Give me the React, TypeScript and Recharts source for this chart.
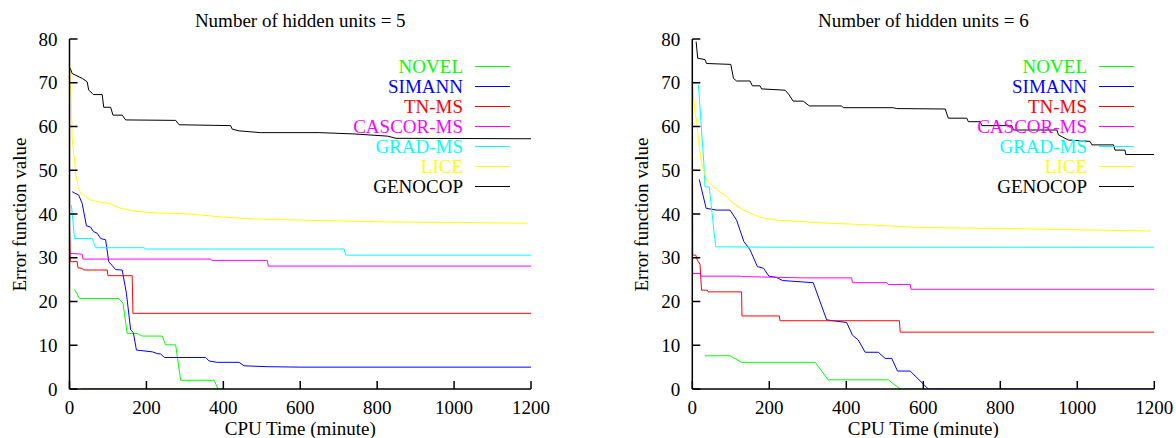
import { LineChart, Line, XAxis, YAxis } from "recharts";

type Pt = { t: number; v: number };
const pts = (a: number[][]): Pt[] => a.map(([t, v]) => ({ t, v }));

const xTicks = [0, 200, 400, 600, 800, 1000, 1200];
const yTicks = [0, 10, 20, 30, 40, 50, 60, 70, 80];

const methods = ["NOVEL", "SIMANN", "TN-MS", "CASCOR-MS", "GRAD-MS", "LICE", "GENOCOP"];
const colors = ["#00ff00", "#0000ff", "#ff0000", "#ff00ff", "#00ffff", "#ffff00", "#000000"];

// hidden units = 5
const h5Novel = pts([[13, 22.8], [26, 20.7], [128, 20.7], [139, 19.6], [150, 12.7], [176, 12.7], [189, 12.1], [241, 12.1], [250, 10.1], [276, 10.1], [289, 2.0], [376, 2.0], [386, 0]]);
const h5NovelZero = pts([[33, 0], [400, 0]]);
const h5Simann = pts([[7, 45.1], [24, 44.3], [33, 42.4], [44, 37.3], [55, 37.0], [62, 36.0], [72, 35.6], [81, 34.4], [94, 34.1], [102, 29.1], [120, 27.3], [137, 27.2], [148, 21.9], [159, 13.5], [166, 12.9], [174, 8.9], [215, 8.5], [228, 8.1], [237, 8.0], [247, 7.2], [354, 7.2], [363, 6.4], [384, 6.1], [441, 6.1], [454, 5.3], [514, 5.1], [600, 5.0], [1200, 5.0]]);
const h5Tnms = pts([[0, 37.5], [2, 29.1], [20, 29.1], [22, 27.7], [33, 27.6], [36, 27.2], [98, 27.2], [100, 25.9], [163, 25.9], [165, 17.3], [1200, 17.3]]);
const h5Cascor = pts([[0, 31.5], [3, 31.0], [33, 30.8], [35, 29.7], [367, 29.7], [370, 29.4], [514, 29.4], [517, 28.1], [1200, 28.1]]);
const h5Grad = pts([[5, 42.0], [13, 34.4], [59, 34.4], [68, 32.3], [193, 32.3], [198, 32.0], [714, 32.0], [718, 30.6], [1200, 30.6]]);
const h5Lice = pts([[0, 74.8], [5, 64.5], [7, 56.9], [13, 52.3], [16, 49.3], [22, 46.2], [29, 44.7], [55, 43.2], [81, 42.7], [107, 42.3], [133, 41.3], [167, 40.7], [211, 40.3], [315, 40.0], [384, 39.4], [471, 38.9], [601, 38.6], [809, 38.2], [1191, 37.9]]);
const h5Genocop = pts([[2, 73.3], [7, 72.1], [33, 71.0], [46, 70.2], [50, 68.3], [59, 67.6], [62, 67.3], [85, 67.3], [89, 64.4], [107, 64.4], [113, 62.6], [137, 62.6], [146, 61.5], [276, 61.4], [285, 60.4], [419, 60.2], [423, 59.4], [441, 59.0], [497, 58.6], [649, 58.6], [740, 58.3], [827, 57.8], [849, 57.3], [1200, 57.2]]);

// hidden units = 6
const h6Novel = pts([[33, 7.6], [98, 7.6], [128, 6.1], [319, 6.1], [353, 2.1], [509, 2.1], [540, 0], [605, 0]]);
const h6Simann = pts([[18, 47.9], [36, 41.3], [63, 40.9], [98, 40.9], [115, 38.6], [134, 33.7], [150, 31.8], [169, 28.0], [185, 27.6], [199, 25.8], [219, 25.5], [234, 24.8], [314, 24.3], [349, 15.8], [401, 15.2], [416, 12.3], [431, 11.2], [449, 8.4], [483, 8.4], [501, 7.0], [518, 7.0], [533, 4.1], [566, 4.1], [613, 0], [1200, 0]]);
const h6Tnms = pts([[0, 70.5], [1, 30.6], [9, 30.6], [13, 29.5], [20, 28.5], [24, 22.6], [39, 22.6], [41, 22.2], [128, 22.2], [129, 16.7], [226, 16.7], [228, 15.6], [538, 15.6], [540, 13.0], [1200, 13.0]]);
const h6Cascor = pts([[0, 30.6], [1, 26.4], [20, 26.4], [23, 25.8], [124, 25.8], [128, 25.7], [288, 25.4], [414, 25.4], [416, 24.3], [505, 24.3], [509, 23.9], [566, 23.9], [568, 22.8], [1200, 22.8]]);
const h6Grad = pts([[16, 69.5], [24, 59.2], [30, 51.6], [33, 46.2], [44, 46.2], [56, 36.3], [61, 32.5], [228, 32.4], [1200, 32.4]]);
const h6Lice = pts([[0, 70.6], [7, 63.0], [11, 61.5], [17, 56.2], [24, 51.6], [37, 47.8], [55, 46.2], [89, 44.0], [107, 42.4], [133, 40.9], [176, 39.2], [219, 38.6], [332, 38.0], [462, 37.5], [592, 36.9], [800, 36.7], [1190, 36.1]]);
const h6Genocop = pts([[10, 79.4], [14, 75.6], [33, 75.3], [37, 74.4], [100, 74.2], [107, 71.0], [115, 70.4], [150, 70.4], [156, 69.3], [176, 69.3], [180, 68.6], [241, 68.3], [250, 67.4], [262, 65.8], [288, 65.8], [304, 64.7], [388, 64.7], [392, 64.3], [522, 64.3], [531, 64.1], [657, 64.0], [665, 61.9], [713, 61.9], [717, 61.1], [748, 61.1], [752, 60.2], [830, 60.2], [834, 59.2], [947, 59.2], [951, 58.1], [977, 56.9], [1033, 56.6], [1038, 55.8], [1094, 55.8], [1098, 54.6], [1124, 54.6], [1126, 53.6], [1200, 53.6]]);

const FONT = '"Liberation Serif", "DejaVu Serif", serif';
const FS = 19;

// gnuplot-style key: label right-aligned, short line sample after it
function Key({ right }: { right: number }) {
  return (
    <div style={{ position: "absolute", top: 56.7, right, display: "flex", flexDirection: "column",
      alignItems: "flex-end", fontFamily: FONT }}>
      {methods.map((m, i) => (
        <div key={m} style={{ display: "flex", alignItems: "center", height: 20, lineHeight: "20px" }}>
          <span style={{ color: colors[i], fontSize: FS, whiteSpace: "nowrap" }}>{m}</span>
          <span style={{ width: 35, height: 0, borderTop: `1px solid ${colors[i]}`, marginLeft: 12 }} />
        </div>
      ))}
    </div>
  );
}

interface PanelProps {
  title: string;
  series: Pt[][];
  extra?: { data: Pt[]; color: string }[];
  left: number;
  mLeft: number;
  mRight: number;
  keyRight: number;
}

const blank = () => "";

function Panel({ title, series, extra = [], left, mLeft, mRight, keyRight }: PanelProps) {
  const plotL = mLeft + 60;
  const plotR = 588 - mRight;
  const cx = (plotL + plotR) / 2;
  const tick = { fill: "#000", fontSize: FS, fontFamily: FONT };
  const noTick = { fill: "none", fontSize: 1 };
  const axisLine = { stroke: "#000", strokeWidth: 1.5 };
  const tl = { stroke: "#000", strokeWidth: 1.5 };
  const txt = { position: "absolute" as const, fontFamily: FONT, fontSize: FS, lineHeight: "19px", textAlign: "center" as const };
  return (
    <div style={{ position: "absolute", left, top: 0, width: 588, height: 438 }}>
      <LineChart width={588} height={438} margin={{ top: 39, right: mRight, bottom: 19, left: mLeft }}>
        <XAxis type="number" dataKey="t" domain={[0, 1200]} ticks={xTicks} height={30} tick={tick}
          tickSize={-8} tickMargin={20} axisLine={axisLine} tickLine={tl} allowDataOverflow />
        <XAxis xAxisId="top" orientation="top" type="number" dataKey="t" domain={[0, 1200]} ticks={xTicks} height={0}
          tick={noTick} tickFormatter={blank} tickSize={-8} axisLine={axisLine} tickLine={tl} allowDataOverflow />
        <YAxis type="number" domain={[0, 80]} ticks={yTicks} width={60} tick={tick}
          tickSize={-8} tickMargin={20} axisLine={axisLine} tickLine={tl} allowDataOverflow />
        <YAxis yAxisId="right" orientation="right" type="number" domain={[0, 80]} ticks={yTicks} width={0}
          tick={noTick} tickFormatter={blank} tickSize={-8} axisLine={axisLine} tickLine={tl} allowDataOverflow />
        {/* invisible copy so the mirrored frame axes have an item bound to them */}
        <Line data={series[6]} dataKey="v" xAxisId="top" yAxisId="right" stroke="none" dot={false}
          legendType="none" isAnimationActive={false} />
        {extra.map((e, i) => (
          <Line key={"x" + i} data={e.data} dataKey="v" stroke={e.color} strokeWidth={1} dot={false}
            legendType="none" isAnimationActive={false} />
        ))}
        {series.map((d, i) => (
          <Line key={methods[i]} name={methods[i]} data={d} dataKey="v" stroke={colors[i]} strokeWidth={1}
            dot={false} type="linear" isAnimationActive={false} />
        ))}
      </LineChart>
      <Key right={keyRight} />
      <div style={{ ...txt, left: cx - 200, width: 400, top: 10.5 }}>{title}</div>
      <div style={{ ...txt, left: cx - 200, width: 400, top: 419 }}>CPU Time (minute)</div>
      <div style={{ ...txt, left: plotL - 51 - 100, width: 200, top: 214 - 9.5, transform: "rotate(-90deg)" }}>
        Error function value
      </div>
    </div>
  );
}

export default function App() {
  return (
    <div style={{ position: "absolute", left: 0, top: 0, width: 1176, height: 438, background: "#fff", overflow: "hidden" }}>
      <Panel title="Number of hidden units = 5" left={0} mLeft={9.5} mRight={57} keyRight={78}
        series={[h5Novel, h5Simann, h5Tnms, h5Cascor, h5Grad, h5Lice, h5Genocop]}
        extra={[{ data: h5NovelZero, color: "#00ff00" }]} />
      <Panel title="Number of hidden units = 6" left={588} mLeft={44.3} mRight={21.7} keyRight={42}
        series={[h6Novel, h6Simann, h6Tnms, h6Cascor, h6Grad, h6Lice, h6Genocop]} />
    </div>
  );
}
